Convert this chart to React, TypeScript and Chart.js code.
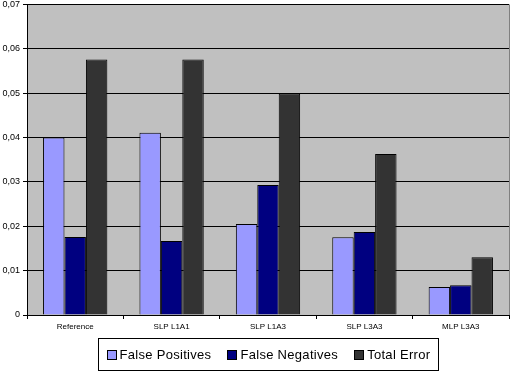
import React, { useEffect, useRef } from "react";
import { Chart, registerables } from "chart.js";

Chart.register(...registerables);

const categories = ["Reference", "SLP L1A1", "SLP L1A3", "SLP L3A3", "MLP L3A3"];
const seriesNames = ["False Positives", "False Negatives", "Total Error"];
const falsePositives = [0.04, 0.0411, 0.0205, 0.0175, 0.0063];
const falseNegatives = [0.0176, 0.0167, 0.0293, 0.0187, 0.0067];
const totalError = [0.0576, 0.0576, 0.0499, 0.0363, 0.013];
const seriesColors = ["#9999FF", "#000080", "#333333"];
const yMax = 0.07;
const yStep = 0.01;

const plotBg = {
  id: "plotBg",
  beforeDraw(chart: any) {
    const { ctx, chartArea } = chart;
    ctx.save();
    ctx.fillStyle = "#C0C0C0";
    ctx.fillRect(chartArea.left, chartArea.top, chartArea.right - chartArea.left, chartArea.bottom - chartArea.top);
    ctx.strokeStyle = "#808080";
    ctx.lineWidth = 1;
    ctx.beginPath();
    ctx.moveTo(chartArea.right + 0.5, chartArea.top);
    ctx.lineTo(chartArea.right + 0.5, chartArea.bottom);
    ctx.stroke();
    ctx.restore();
  },
};

const boxLegend = {
  id: "boxLegend",
  afterDraw(chart: any) {
    const { ctx, chartArea } = chart;
    const font = "13px Arial, 'Liberation Sans', sans-serif";
    ctx.save();
    ctx.font = font;
    try { (ctx as any).letterSpacing = "0.3px"; } catch (e) {}
    const box = 9;
    const gap = 4;
    const between = 16;
    const padX = 8;
    const items = chart.data.datasets.map((d: any) => ({
      label: d.label,
      color: d.backgroundColor,
      w: ctx.measureText(d.label).width,
    }));
    let total = padX * 2;
    items.forEach((it: any, i: number) => {
      total += box + gap + it.w + (i < items.length - 1 ? between : 0);
    });
    total = Math.round(total);
    const cx = (chartArea.left + chartArea.right) / 2;
    const left = Math.round(cx - total / 2) + 0.5;
    const top = chartArea.bottom + 23.5;
    const h = 32;
    ctx.fillStyle = "#FFFFFF";
    ctx.fillRect(left, top, total, h);
    ctx.strokeStyle = "#000000";
    ctx.lineWidth = 1;
    ctx.strokeRect(left, top, total, h);
    let x = left + padX;
    const midY = top + h / 2;
    items.forEach((it: any) => {
      const bx = Math.round(x) + 0.5;
      const by = Math.round(midY - box / 2) + 0.5;
      ctx.fillStyle = it.color;
      ctx.fillRect(bx, by, box, box);
      ctx.strokeStyle = "#000000";
      ctx.strokeRect(bx, by, box, box);
      ctx.fillStyle = "#000000";
      ctx.textBaseline = "middle";
      ctx.textAlign = "left";
      ctx.fillText(it.label, x + box + gap, midY + 1);
      x += box + gap + it.w + between;
    });
    ctx.restore();
  },
};

export default function App() {
  const ref = useRef<HTMLCanvasElement | null>(null);
  useEffect(() => {
    if (!ref.current) return;
    const chart = new Chart(ref.current, {
      type: "bar",
      data: {
        labels: categories,
        datasets: [falsePositives, falseNegatives, totalError].map((vals, i) => ({
          label: seriesNames[i],
          data: vals,
          backgroundColor: seriesColors[i],
          borderColor: "#000000",
          borderWidth: 1,
          categoryPercentage: 0.667,
          barPercentage: 1.0,
        })),
      },
      options: {
        animation: false,
        responsive: false,
        maintainAspectRatio: false,
        layout: { padding: { top: 0, right: 3, left: 0, bottom: 42 } },
        plugins: { legend: { display: false }, tooltip: { enabled: false } },
        scales: {
          x: {
            grid: { drawOnChartArea: false, drawTicks: true, tickLength: 4, color: "#000000" },
            border: { display: true, color: "#000000" },
            ticks: { color: "#000000", font: { family: "Arial, 'Liberation Sans', sans-serif", size: 8 }, padding: 3, maxRotation: 0 },
            afterFit: (s: any) => { s.height = 18; },
          },
          y: {
            min: 0,
            max: yMax,
            grid: { color: "#000000", drawTicks: true, tickLength: 4 },
            border: { display: true, color: "#000000" },
            ticks: {
              stepSize: yStep,
              color: "#000000",
              padding: 3,
              font: { family: "Arial, 'Liberation Sans', sans-serif", size: 9 },
              callback: (v: any) => (Number(v) === 0 ? "0" : Number(v).toFixed(2).replace(".", ",")),
            },
            afterFit: (s: any) => { s.width = 27; },
          },
        },
      },
      plugins: [plotBg, boxLegend],
    });
    return () => chart.destroy();
  }, []);
  return (
    <div style={{ position: "fixed", left: 0, top: -4, width: 512, height: 379, background: "#fff" }}>
      <canvas ref={ref} width={512} height={379} style={{ width: 512, height: 379, display: "block" }} />
    </div>
  );
}
